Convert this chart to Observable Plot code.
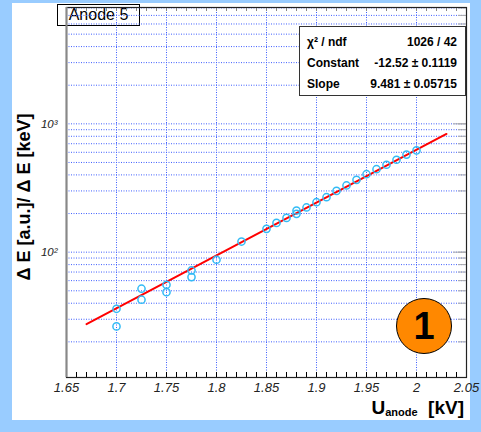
<!DOCTYPE html>
<html>
<head>
<meta charset="utf-8">
<script src="https://cdn.jsdelivr.net/npm/d3@7"></script>
<script src="https://cdn.jsdelivr.net/npm/@observablehq/plot@0.6"></script>
<style>
html, body { margin: 0; padding: 0; background: #99ccff; }
#page { position: relative; width: 481px; height: 432px; background: #99ccff; overflow: hidden;
  font-family: "Liberation Sans", Arial, Helvetica, sans-serif; color: #000; }
#panel { position: absolute; left: 12px; top: 3px; width: 458px; height: 417px; background: #fff; }
#chart { position: absolute; left: 0; top: 0; z-index: 1; }
#title { position: absolute; left: 45px; top: 1px; width: 83px; height: 22px; box-sizing: border-box;
  border: 1px solid #000; font-size: 16px; line-height: 20px; text-align: center; z-index: 0; white-space: nowrap; }
#stats { position: absolute; left: 287px; top: 23px; width: 167px; height: 70px; box-sizing: border-box;
  border: 1px solid #333; background: #fff; z-index: 2; padding: 5px 8px 0 7px; font-size: 12px; font-weight: bold; }
#stats .row { display: flex; justify-content: space-between; height: 20.8px; line-height: 20.8px; white-space: nowrap; }
#ylabel { position: absolute; left: 12px; top: 194px; transform: translate(-50%, -50%) rotate(-90deg);
  font-size: 18px; font-weight: bold; white-space: nowrap; z-index: 2; }
#xlabel { position: absolute; right: 6px; top: 395px; font-size: 19px; line-height: 19px; font-weight: bold; white-space: pre; z-index: 2; }
#xlabel .sub { font-size: 11px; vertical-align: -2px; }
#badge { position: absolute; left: 384px; top: 294.7px; width: 56px; height: 56px; box-sizing: border-box;
  border-radius: 50%; background: #ff8800; border: 1px solid #000; z-index: 2;
  display: flex; align-items: center; justify-content: center; font-size: 38px; font-weight: bold; line-height: 1; }
</style>
</head>
<body>
<div id="page">
  <div id="panel">
    <div id="title"></div>
    <div id="chart"></div>
    <div id="stats"></div>
    <div id="ylabel"></div>
    <div id="xlabel"></div>
    <div id="badge"></div>
  </div>
</div>
<script>
// ---- data ----
const voltages = [1.70, 1.70, 1.725, 1.725, 1.75, 1.75, 1.775, 1.775, 1.80, 1.825, 1.85, 1.86, 1.87, 1.88, 1.88,
  1.89, 1.90, 1.91, 1.92, 1.93, 1.94, 1.95, 1.96, 1.97, 1.98, 1.99, 2.00];
const ratios = [36.2, 26.4, 51.9, 42.6, 55.7, 48.8, 72, 63.9, 87.3, 121, 152, 169, 185, 211, 199,
  223, 245, 268, 300, 331, 366, 405, 443, 480, 525, 576, 621];
const fitVoltages = [1.67, 2.03];
const fitRatios = [27.5, 834];

const xTicks = [1.65, 1.70, 1.75, 1.80, 1.85, 1.90, 1.95, 2.00, 2.05];
const xTickLabels = ["1.65", "1.7", "1.75", "1.8", "1.85", "1.9", "1.95", "2", "2.05"];
const xGrid = [1.70, 1.75, 1.80, 1.85, 1.90, 1.95, 2.00];
const yTicks = [100, 1000];
const yTickLabels = ["10²", "10³"];
const yGrid = [20, 30, 40, 50, 60, 70, 80, 90, 100, 200, 300, 400, 500, 600, 700, 800, 900,
  1000, 2000, 3000, 4000, 5000, 6000, 7000, 8000];

const titleText = "Anode 5";
const statLabels = ["χ² / ndf", "Constant", "Slope"];
const statValues = ["1026 / 42", "-12.52 ± 0.1119", "9.481 ± 0.05715"];
const yLabelText = "Δ E [a.u.]/ Δ E [keV]";
const xLabelMain = "U", xLabelSub = "anode", xLabelUnit = "  [kV]";
const badgeText = "1";

// ---- build ----
const points = voltages.map((v, i) => ({u: v, r: ratios[i]}));
const fit = fitVoltages.map((v, i) => ({u: v, r: fitRatios[i]}));
const xMinor = d3.range(0, 41).map(i => 1.65 + i * 0.01);

const W = 458, H = 417, mL = 54, mR = 4, mT = 4, mB = 43;
const pw = W - mL - mR, ph = H - mT - mB;
const gridStyle = {stroke: "#3f5fff", strokeOpacity: 1, strokeDasharray: "1,1.5", strokeWidth: 1};

const chart = Plot.plot({
  width: W, height: H,
  marginLeft: mL, marginRight: mR, marginTop: mT, marginBottom: mB,
  style: {background: "transparent", overflow: "visible", fontFamily: "Liberation Sans, Arial, sans-serif"},
  x: {domain: [1.65, 2.05], axis: null},
  y: {type: "log", domain: [10.55, 8065], axis: null},
  marks: [
    Plot.ruleY(yGrid, {y: d => d, ...gridStyle}),
    Plot.ruleX(xGrid, {x: d => d, ...gridStyle}),
    Plot.tickY(yGrid, {y: d => d, stroke: "#aaa", insetLeft: pw - 8}),
    Plot.tickY(yTicks, {y: d => d, stroke: "#aaa", insetLeft: pw - 13}),
    Plot.tickX(xMinor, {x: d => d, stroke: "#000", insetTop: ph - 5}),
    Plot.tickX(xMinor, {x: d => d, stroke: "#888", insetBottom: ph - 4}),
    Plot.frame({stroke: "#222", strokeWidth: 1.2}),
    Plot.ruleX([1.65], {stroke: "#888", strokeWidth: 2}),
    Plot.line(fit, {x: "u", y: "r", stroke: "#ff0000", strokeWidth: 2}),
    Plot.dot(points, {x: "u", y: "r", r: 3.6, stroke: "#33bbf5", strokeWidth: 1.5, fill: "none"}),
    Plot.axisX({ticks: xTicks, tickSize: 0, tickPadding: 5, label: null,
      tickFormat: d => xTickLabels[xTicks.indexOf(d)], fontStyle: "italic", fontSize: 13, fill: "#222"}),
    Plot.axisY({ticks: yTicks, tickSize: 0, tickPadding: 9, label: null,
      tickFormat: d => yTickLabels[yTicks.indexOf(d)], fontStyle: "italic", fontSize: 11.5, fill: "#222"})
  ]
});
document.getElementById("chart").appendChild(chart);

document.getElementById("title").textContent = titleText;
const stats = document.getElementById("stats");
statLabels.forEach((lab, i) => {
  const row = document.createElement("div");
  row.className = "row";
  const a = document.createElement("span"); a.textContent = lab;
  const b = document.createElement("span"); b.textContent = statValues[i];
  row.appendChild(a); row.appendChild(b);
  stats.appendChild(row);
});
document.getElementById("ylabel").textContent = yLabelText;
const xl = document.getElementById("xlabel");
xl.appendChild(document.createTextNode(xLabelMain));
const sub = document.createElement("span"); sub.className = "sub"; sub.textContent = xLabelSub;
xl.appendChild(sub);
xl.appendChild(document.createTextNode(xLabelUnit));
document.getElementById("badge").textContent = badgeText;
</script>
</body>
</html>
